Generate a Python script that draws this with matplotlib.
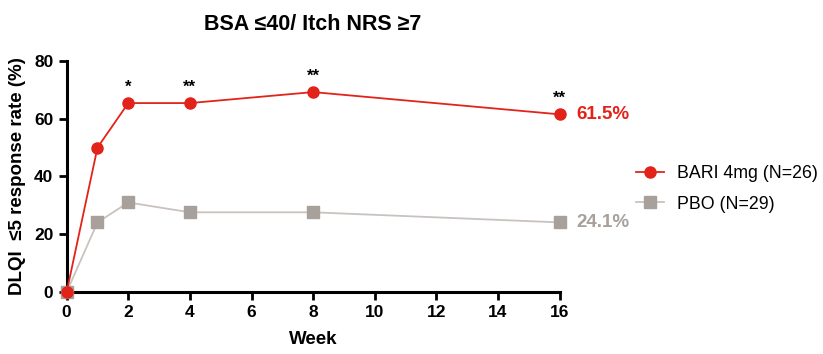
import matplotlib
matplotlib.use("Agg")
import matplotlib.pyplot as plt

weeks = [0, 1, 2, 4, 8, 16]
bari = [0, 50.0, 65.4, 65.4, 69.2, 61.5]
pbo = [0, 24.1, 31.0, 27.6, 27.6, 24.1]
stars = {2: "*", 4: "**", 8: "**", 16: "**"}

RED = "#E2231A"
GREY_M = "#A8A09A"
GREY_L = "#C9C3BF"

plt.rcParams["font.family"] = ["Liberation Sans", "DejaVu Sans"]

fig = plt.figure(figsize=(8.23, 3.54), dpi=100)
ax = fig.add_axes([0.081, 0.175, 0.599, 0.653])

ax.plot(weeks, pbo, color=GREY_L, lw=1.3, marker="s", ms=8,
        mfc=GREY_M, mec=GREY_M, clip_on=False, label="PBO (N=29)", zorder=3)
ax.plot(weeks, bari, color=RED, lw=1.3, marker="o", ms=8,
        mfc=RED, mec=RED, clip_on=False, label="BARI 4mg (N=26)", zorder=4)

for w, s in stars.items():
    i = weeks.index(w)
    ax.text(w, bari[i] + 3, s, ha="center", va="bottom", fontsize=12,
            fontweight="bold")

ax.text(16.55, bari[-1], f"{bari[-1]}%", color=RED, fontsize=13.5,
        fontweight="bold", va="center", ha="left")
ax.text(16.55, pbo[-1], f"{pbo[-1]}%", color=GREY_M, fontsize=13.5,
        fontweight="bold", va="center", ha="left")

ax.set_xlim(0, 16)
ax.set_ylim(0, 80)
ax.set_xticks(range(0, 17, 2))
ax.set_yticks(range(0, 81, 20))
for sp in ["top", "right"]:
    ax.spines[sp].set_visible(False)
for sp in ["left", "bottom"]:
    ax.spines[sp].set_linewidth(2.2)
ax.tick_params(width=2, length=6, labelsize=12.5)
for lbl in ax.get_xticklabels() + ax.get_yticklabels():
    lbl.set_fontweight("bold")

ax.set_xlabel("Week", fontsize=13.5, fontweight="bold", labelpad=8)
ax.set_ylabel("DLQI  \u22645 response rate (%)", fontsize=13.5,
              fontweight="bold", labelpad=6)
ax.set_title("BSA \u226440/ Itch NRS \u22657", fontsize=15.5,
             fontweight="bold", pad=22)

h, l = ax.get_legend_handles_labels()
fig.legend(h[::-1], l[::-1], loc="center left", bbox_to_anchor=(0.762, 0.466),
           frameon=False, fontsize=12.8, handlelength=1.6, handletextpad=0.7,
           labelspacing=0.75, borderpad=0)

fig.savefig("out.png", dpi=100)
